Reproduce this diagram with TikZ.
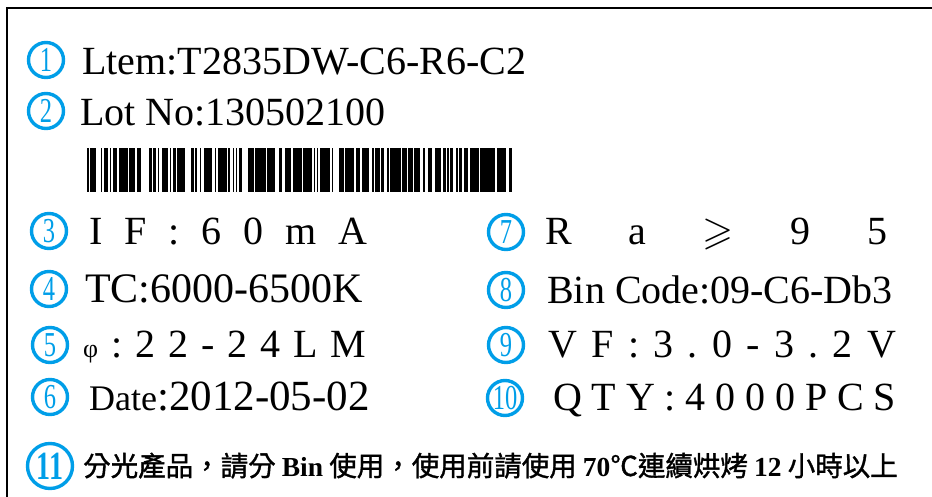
\documentclass[tikz,border=0pt]{standalone}
\usepackage{amssymb}
\usepackage{fontspec}
\setmainfont{Liberation Serif}
\newfontfamily\cjk{Noto Sans CJK TC}[FakeBold=1.3]
\newfontfamily\numfont{Liberation Serif}[FakeStretch=0.7]
\definecolor{numblue}{RGB}{0,158,232}
\def\fs#1{\fontsize{#1}{#1}\selectfont}
\def\spread#1#2{\makebox[#1pt][s]{#2}}
\tikzset{
  num/.style={circle,draw=numblue,line width=3.4pt,minimum size=35pt,inner sep=0pt,text=numblue,font=\numfont\fs{35}},
  txt/.style={anchor=base west,inner sep=0pt,font=\fs{40}},
}

\begin{document}
\begin{tikzpicture}[x=1pt,y=-1pt]
\useasboundingbox (0,0) rectangle (932,497);
\draw[line width=2.5pt] (932,8) -- (7,8) -- (7,497);

\node[num] (n1) at (46,60) {1};
\node[txt] (t1) at (82,75) {Ltem:T2835DW-C6-R6-C2};
\node[num] (n2) at (46,111) {2};
\node[txt] (t2) at (80,126) {Lot No:130502100};

\pgfmathsetseed{4}
\foreach \i in {0,...,284}{
  \pgfmathtruncatemacro\bk{rnd<0.66}
  \ifnum\bk=1 \fill (84+\i*1.5,148) rectangle ++(1.5,44); \fi
}

\node[num] (n3) at (49,231) {3};
\node[txt] (t3) at (89,244) {\spread{278}{I\hfill F\hfill :\hfill 6\hfill 0\hfill m\hfill A}};
\node[num] (n4) at (49,289) {4};
\node[txt,font=\fs{42}] (t4) at (85,302) {TC:6000-6500K};
\node[num] (n5) at (50,345) {5};
\node[txt] (t5) at (83,357) {\spread{283}{{\fs{26}φ}\hfill :\hfill 2\hfill 2\hfill -\hfill 2\hfill 4\hfill L\hfill M}};
\node[num] (n6) at (50,397) {6};
\node[txt,font=\fs{43}] (t6) at (89,410) {{\fs{36}Date}:2012-05-02};

\node[num] (n7) at (506,232) {7};
\node[txt] (t7) at (545,244) {\spread{342}{R\hfill a\hfill $\geqslant$\hfill 9\hfill 5}};
\node[num] (n8) at (506,290) {8};
\node[txt] (t8) at (547,303) {Bin Code:09-C6-Db3};
\node[num] (n9) at (506,345) {9};
\node[txt] (t9) at (548,357) {\spread{348}{V\hfill F\hfill :\hfill 3\hfill .\hfill 0\hfill -\hfill 3\hfill .\hfill 2\hfill V}};
\node[num] (n10) at (505,398) {10};
\node[txt] (t10) at (553,410) {\spread{343}{Q\hfill T\hfill Y\hfill :\hfill 4\hfill 0\hfill 0\hfill 0\hfill P\hfill C\hfill S}};

\node[num,minimum size=45pt,font=\numfont\bfseries\fs{40}] (n11) at (50,466) {11};
\node[txt,font=\cjk\fs{27.5}] (t11) at (83,476) {分光產品，請分 {\rmfamily\bfseries Bin} 使用，使用前請使用 {\rmfamily\bfseries 70}℃連續烘烤 {\rmfamily\bfseries 12} 小時以上};
\end{tikzpicture}
\end{document}
